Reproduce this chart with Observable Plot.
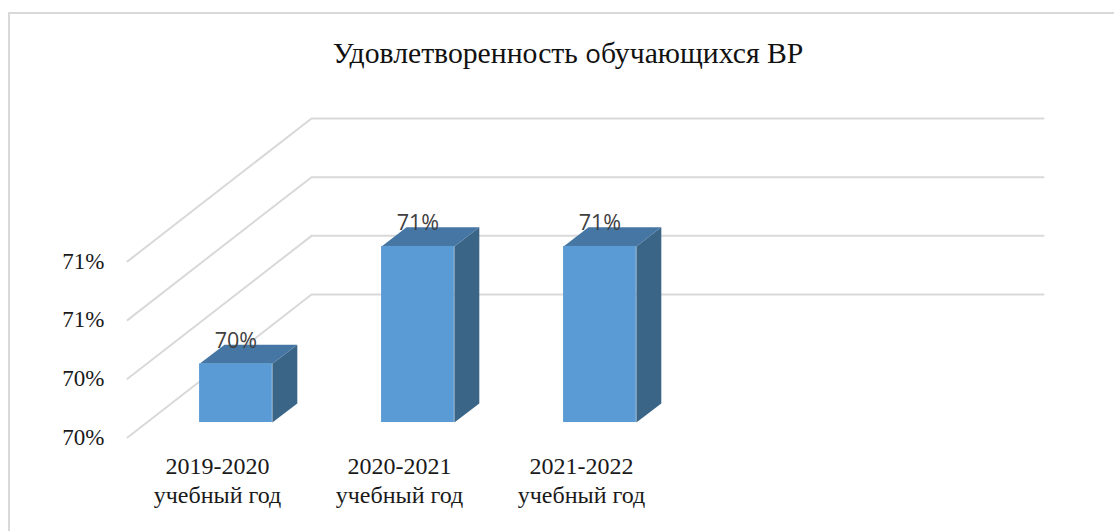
<!DOCTYPE html>
<html>
<head>
<meta charset="utf-8">
<script src="https://cdn.jsdelivr.net/npm/d3@7"></script>
<script src="https://cdn.jsdelivr.net/npm/@observablehq/plot@0.6"></script>
<style>
html,body{margin:0;padding:0;background:#fff;overflow:hidden}
#wrap{position:relative;width:1114px;height:531px}
#frame{position:absolute;left:8px;top:12px;right:0;bottom:0;border-left:2px solid #d9d9d9;border-top:2px solid #d9d9d9}
#title{position:absolute;left:0;top:35px;width:1136px;text-align:center;font:29.7px/36px "Liberation Serif",serif;color:#111;white-space:nowrap}
#title span{font-family:"Open Sans",sans-serif;font-size:26px}
svg{position:absolute;left:0;top:0}
</style>
</head>
<body>
<div id="wrap"><div id="frame"></div><div id="title">Удовлетворенность <span>о</span>бучающихся ВР</div></div>
<script>
const categories = ["2019-2020\nучебный год", "2020-2021\nучебный год", "2021-2022\nучебный год"];
const values = [70.4, 70.8, 70.8];
const valueLabels = ["70%", "71%", "71%"];
const yTicks = [70.2, 70.4, 70.6, 70.8];
const tickLabels = ["70%", "70%", "71%", "71%"];

// oblique-projection parameters, in data units of the two scales
const wallDepthX = 1.011, wallDepthY = 0.487;
const barDepthX = 0.137, barDepthY = 0.065;
const barOffset = 0.396, barWidth = 0.4, barLift = 0.051;
const yMin = 70.2, xMax = 5.033;

const grid = yTicks.flatMap((t, k) => [
  {k, x: 0, y: t},
  {k, x: wallDepthX, y: t + wallDepthY},
  {k, x: xMax, y: t + wallDepthY}
]);
const barBase = yMin + barLift;
const bars = values.map((v, i) => ({i, v: v + barLift, x1: i + barOffset, x2: i + barOffset + barWidth}));
const sideFace = bars.flatMap(b => [
  {i: b.i, x: b.x2, y: barBase},
  {i: b.i, x: b.x2 + barDepthX, y: barBase + barDepthY},
  {i: b.i, x: b.x2 + barDepthX, y: b.v + barDepthY},
  {i: b.i, x: b.x2, y: b.v}
]);
const topFace = bars.flatMap(b => [
  {i: b.i, x: b.x1, y: b.v},
  {i: b.i, x: b.x2, y: b.v},
  {i: b.i, x: b.x2 + barDepthX, y: b.v + barDepthY},
  {i: b.i, x: b.x1 + barDepthX, y: b.v + barDepthY}
]);

const chart = Plot.plot({
  width: 1114,
  height: 531,
  marginLeft: 127,
  marginRight: 71,
  marginTop: 118,
  marginBottom: 94,
  style: {fontFamily: '"Liberation Serif", serif', fontSize: "20px", color: "#1a1a1a", background: "transparent"},
  x: {domain: [0, xMax], axis: null},
  y: {domain: [yMin, yMin + 319 / 293.5], range: [437, 118], axis: null},
  marks: [
    Plot.line(grid, {x: "x", y: "y", z: "k", stroke: "#d9d9d9", strokeWidth: 2}),
    Plot.axisY({ticks: yTicks, tickFormat: d => tickLabels[yTicks.indexOf(d)], tickSize: 0, tickPadding: 23, label: null, fontSize: 23}),
    Plot.line(sideFace, {x: "x", y: "y", z: "i", fill: "#3a6587", stroke: "none"}),
    Plot.line(topFace, {x: "x", y: "y", z: "i", fill: "#4676a3", stroke: "none"}),
    Plot.rect(bars, {x1: "x1", x2: "x2", y1: barBase, y2: "v", fill: "#5b9bd5"}),
    Plot.text(bars, {x: d => (d.x1 + d.x2) / 2, y: "v", text: d => valueLabels[d.i], dy: -23, fontFamily: '"Open Sans", sans-serif', fontSize: 21.5, fill: "#404040"}),
    Plot.text(categories, {x: (d, i) => i + 0.5, y: yMin, text: d => d, dx: -1, dy: 42, lineHeight: 1.2, fontSize: 24, fill: "#1a1a1a"})
  ]
});
document.getElementById("wrap").appendChild(chart);
</script>
</body>
</html>
